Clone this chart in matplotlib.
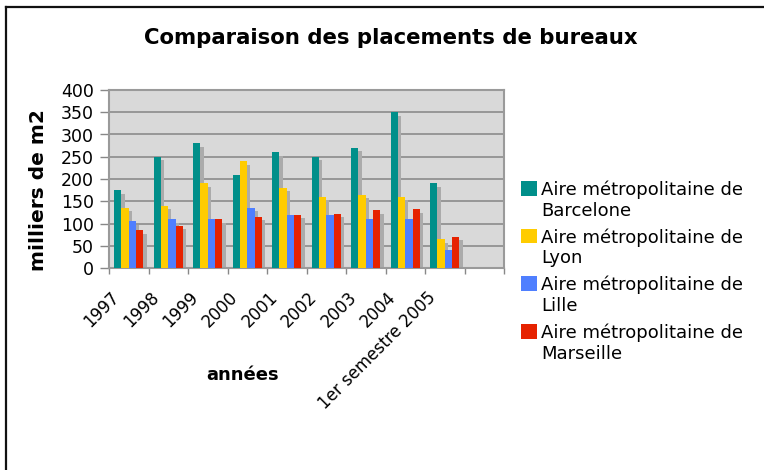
import matplotlib
matplotlib.use("Agg")
import matplotlib.pyplot as plt
import numpy as np
from matplotlib.patches import Rectangle
from matplotlib.legend_handler import HandlerPatch
import matplotlib.transforms as mtransforms

categories = ["1997", "1998", "1999", "2000", "2001", "2002", "2003", "2004",
              "1er semestre 2005"]
series_names = ["Aire métropolitaine de\nBarcelone",
                "Aire métropolitaine de\nLyon",
                "Aire métropolitaine de\nLille",
                "Aire métropolitaine de\nMarseille"]
barcelone = [175, 250, 280, 210, 260, 250, 270, 350, 190]
lyon = [135, 140, 190, 240, 180, 160, 165, 160, 65]
lille = [105, 110, 110, 135, 120, 120, 110, 110, 40]
marseille = [85, 95, 110, 115, 120, 122, 130, 132, 70]
yticks = [0, 50, 100, 150, 200, 250, 300, 350, 400]

colors = ["#008f8a", "#ffcc00", "#4f7fff", "#e62200"]
series = [barcelone, lyon, lille, marseille]

plt.rcParams['font.family'] = ['DejaVu Sans']
fig = plt.figure(figsize=(7.64, 4.70), dpi=100)
W, H = 764, 470

# outer frame
fig.add_artist(plt.Line2D([6 / W, 6 / W], [0, 1 - 7 / H], color="#111111", lw=1.6,
                          transform=fig.transFigure))
fig.add_artist(plt.Line2D([6 / W, 1.0], [1 - 7 / H, 1 - 7 / H], color="#111111", lw=1.6,
                          transform=fig.transFigure))

ax = fig.add_axes([109 / W, 1 - 268 / H, (504 - 109) / W, (268 - 90) / H])
ax.set_facecolor("#d9d9d9")

n_slots = 10
x = np.arange(len(categories)) + 0.5
bw = 0.185
dx_sh = 3.2 / 39.5
dy_sh = 3.5 / 178 * 400

for k, (vals, c, name) in enumerate(zip(series, colors, series_names)):
    pos = x + (k - 1.5) * bw
    v = np.array(vals, dtype=float)
    ax.bar(pos + dx_sh, v - dy_sh, width=bw, color="#ababab", zorder=2, linewidth=0)
for k, (vals, c, name) in enumerate(zip(series, colors, series_names)):
    pos = x + (k - 1.5) * bw
    ax.bar(pos, vals, width=bw, color=c, zorder=3, linewidth=0, label=name)

ax.set_xlim(0, n_slots)
ax.set_ylim(0, 400)
ax.set_yticks(yticks)
ax.set_yticklabels([str(t) for t in yticks], fontsize=12.5)
ax.yaxis.grid(True, color="#858585", lw=1.1, zorder=1)
ax.set_axisbelow(True)
ax.tick_params(axis="y", length=6.5, width=1, color="#888888", pad=4.5)

ax.set_xticks(x)
ax.set_xticklabels(categories, fontsize=12, rotation=45, ha="right", va="center",
                   rotation_mode="anchor")
ax.tick_params(axis="x", which="major", length=0, pad=0)
ax.set_xticks(np.arange(0, n_slots + 1), minor=True)
ax.tick_params(axis="x", which="minor", length=4.5, width=1, color="#888888")
offset = mtransforms.ScaledTranslation(-12 / 100, -27 / 100, fig.dpi_scale_trans)
for lab in ax.get_xticklabels():
    lab.set_transform(lab.get_transform() + offset)

for s in ax.spines.values():
    s.set_color("#9a9a9a")
    s.set_linewidth(1.5)

fig.text(39 / W, 1 - 190 / H, "milliers de m2", rotation=90, fontsize=14.5,
         fontweight="bold", ha="center", va="center")
fig.text(243 / W, 1 - 375 / H, "années", fontsize=13, fontweight="bold",
         ha="center", va="center")
fig.text(391 / W, 1 - 38 / H, "Comparaison des placements de bureaux", fontsize=15.3,
         fontweight="bold", ha="center", va="center")


def top_patch(legend, orig_handle, xdescent, ydescent, width, height, fontsize):
    return Rectangle((-xdescent, -ydescent + 0.69 * fontsize), width, height)


handles = [Rectangle((0, 0), 1, 1, facecolor=c, edgecolor="none") for c in colors]
leg = fig.legend(handles, series_names, loc="upper left",
                 bbox_to_anchor=(505 / W, 1 - 164 / H),
                 frameon=False, fontsize=13, handlelength=0.9, handleheight=0.9,
                 handletextpad=0.2, labelspacing=0.47,
                 handler_map={Rectangle: HandlerPatch(patch_func=top_patch)})

fig.savefig("out.png", dpi=100)
